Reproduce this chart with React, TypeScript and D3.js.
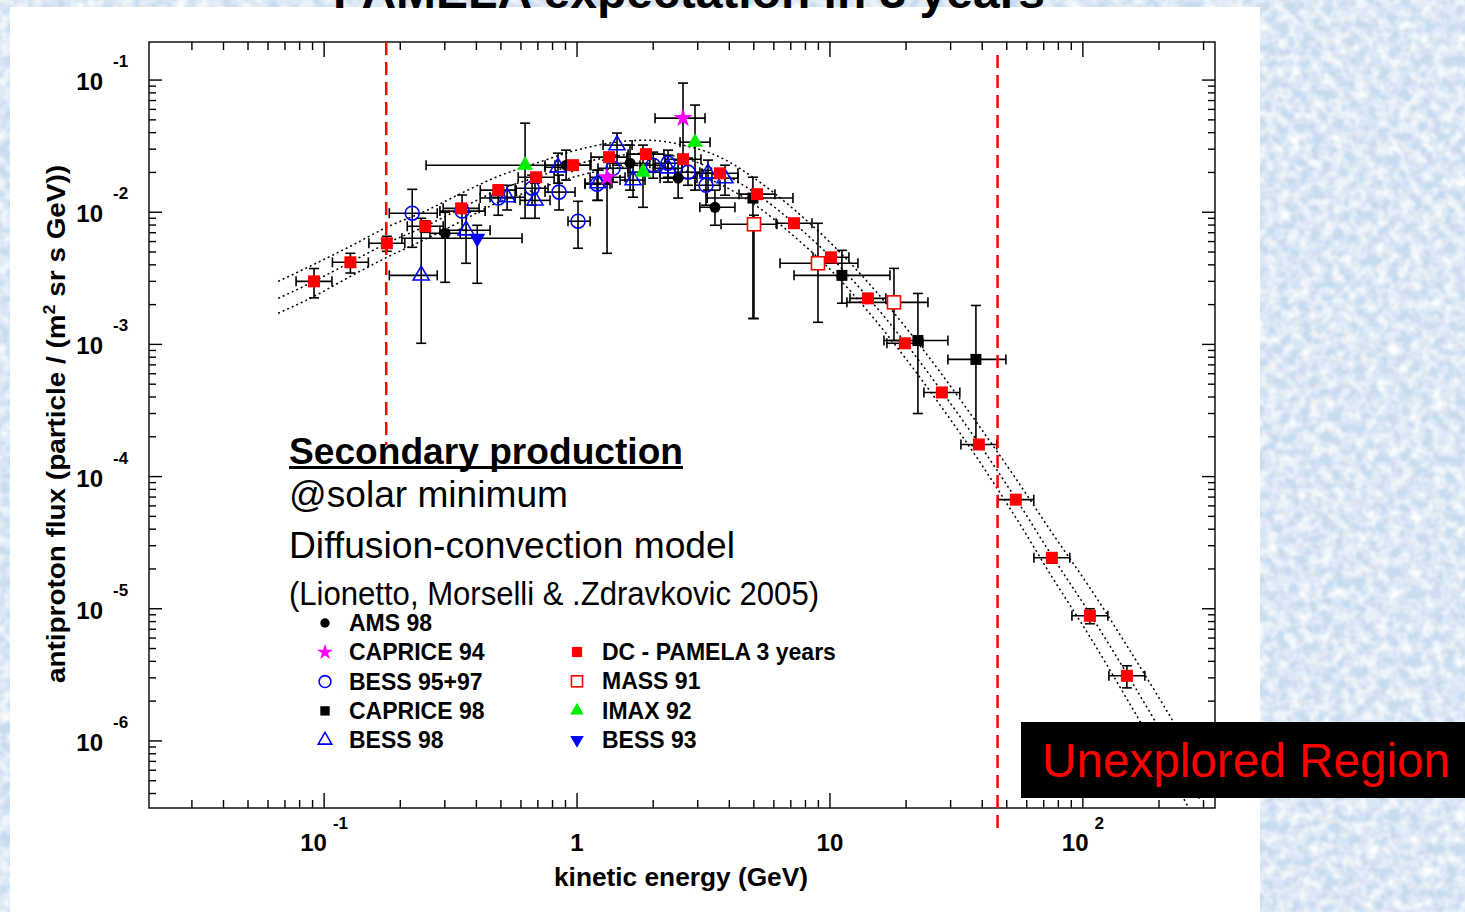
import * as d3 from 'd3';

// [E (GeV), flux, Emin, Emax, fluxMin, fluxMax]
type Pt = [number, number, number, number, number, number];

const ams98: Pt[] = [
  [0.301, 0.00693, 0.262, 0.345, 0.00295, 0.01],
  [0.905, 0.0227, 0.747, 1.126, 0.0175, 0.0295],
  [1.62, 0.0235, 1.35, 1.94, 0.0147, 0.0322],
  [2.51, 0.0181, 2.13, 2.98, 0.0128, 0.0248],
  [3.51, 0.0109, 3.06, 4.21, 0.00797, 0.0147],
];

const caprice98: Pt[] = [
  [4.96, 0.0128, 3.27, 7.14, 0.00157, 0.0184],
  [11.15, 0.00333, 7.21, 17.27, 0.00205, 0.00515],
  [22.27, 0.00107, 16.35, 29.27, 3.0e-4, 0.00243],
  [37.77, 7.7e-4, 29.27, 49.62, 1.72e-4, 0.00197],
];

const bess9597: Pt[] = [
  [0.223, 0.00983, 0.181, 0.28, 0.00543, 0.0149],
  [0.351, 0.0102, 0.287, 0.433, 0.0073, 0.0135],
  [0.488, 0.0128, 0.414, 0.569, 0.00949, 0.016],
  [0.664, 0.0152, 0.569, 0.768, 0.0113, 0.0191],
  [0.849, 0.0142, 0.747, 0.982, 0.0104, 0.0191],
  [1.009, 0.00855, 0.921, 1.126, 0.00534, 0.0121],
  [1.2, 0.0163, 1.075, 1.35, 0.0123, 0.0208],
  [1.388, 0.0215, 1.21, 1.591, 0.0169, 0.027],
  [2.0, 0.0227, 1.774, 2.228, 0.0181, 0.0285],
  [2.289, 0.0235, 2.034, 2.6, 0.0184, 0.0295],
  [2.746, 0.0201, 2.44, 3.06, 0.016, 0.0257],
  [3.235, 0.016, 2.927, 3.675, 0.0113, 0.0208],
];

const bess98: Pt[] = [
  [0.242, 0.00333, 0.181, 0.28, 0.00102, 0.009],
  [0.364, 0.0073, 0.287, 0.453, 0.00411, 0.01],
  [0.529, 0.013, 0.453, 0.623, 0.0104, 0.016],
  [0.682, 0.0123, 0.595, 0.782, 0.009, 0.0166],
  [0.841, 0.0219, 0.747, 0.955, 0.0166, 0.028],
  [1.21, 0.0166, 1.075, 1.375, 0.0123, 0.0208],
  [1.439, 0.0322, 1.267, 1.65, 0.0227, 0.0397],
  [1.665, 0.0175, 1.479, 1.857, 0.013, 0.0227],
  [2.289, 0.0215, 2.034, 2.6, 0.0169, 0.027],
  [3.295, 0.0197, 2.927, 3.675, 0.0147, 0.0248],
  [3.846, 0.0181, 3.417, 4.33, 0.01345, 0.0227],
];

const imax92: Pt[] = [
  [0.623, 0.0227, 0.253, 0.982, 0.009, 0.0472],
  [1.823, 0.0201, 1.591, 2.128, 0.0109, 0.0322],
  [2.927, 0.0339, 2.554, 3.356, 0.0147, 0.0647],
];

const caprice94: Pt[] = [
  [1.314, 0.0184, 1.126, 1.548, 0.00489, 0.0248],
  [2.624, 0.0515, 2.034, 3.206, 0.0248, 0.0949],
];

const bess93: Pt[] = [[0.403, 0.00635, 0.203, 0.606, 0.0029, 0.00797]];

const mass91: Pt[] = [
  [5.007, 0.00811, 3.709, 6.172, 0.00157, 0.00949],
  [8.966, 0.00411, 6.345, 12.9, 0.00147, 0.00825],
  [17.91, 0.00208, 11.67, 24.4, 0.00107, 0.00376],
];

// PAMELA 3-year expectation: [E, flux, relative flux error]
const pamela: [number, number, number][] = [
  [0.0912, 3.0e-3, 0.25], [0.127, 4.18e-3, 0.17], [0.177, 5.82e-3, 0.13],
  [0.251, 7.83e-3, 0.1], [0.348, 1.07e-2, 0.08], [0.488, 1.47e-2, 0.05],
  [0.689, 1.84e-2, 0.05], [0.964, 2.27e-2, 0.05], [1.337, 2.61e-2, 0.05],
  [1.874, 2.75e-2, 0.05], [2.624, 2.52e-2, 0.05], [3.675, 1.97e-2, 0.05],
  [5.146, 1.37e-2, 0.05], [7.21, 8.26e-3, 0.05], [10.09, 4.56e-3, 0.05],
  [14.13, 2.23e-3, 0.05], [19.78, 1.02e-3, 0.05], [27.7, 4.33e-4, 0.05],
  [38.8, 1.75e-4, 0.05], [54.3, 6.69e-5, 0.06], [75.4, 2.43e-5, 0.09],
  [106.6, 8.85e-6, 0.13], [149.3, 3.11e-6, 0.19], [209, 1.0e-6, 0.25],
];
const pamelaBinDex = 0.071; // half bin width in decades

// Secondary production model band (upper / central / lower)
const modelE = [0.0658, 0.0912, 0.127, 0.177, 0.251, 0.348, 0.488, 0.689, 0.964, 1.337, 1.874, 2.624, 3.675,
  5.146, 7.21, 10.09, 14.13, 19.78, 27.7, 38.8, 54.3, 75.4, 106.6, 149.3, 209, 290];
const modelUpper = [3.0e-3, 4.04e-3, 5.53e-3, 7.7e-3, 1.02e-2, 1.39e-2, 1.87e-2, 2.35e-2, 2.9e-2, 3.33e-2, 3.51e-2,
  3.22e-2, 2.61e-2, 1.75e-2, 1.05e-2, 5.82e-3, 2.95e-3, 1.37e-3, 5.93e-4, 2.43e-4, 9.66e-5, 3.77e-5, 1.44e-5,
  5.25e-6, 1.84e-6, 6.35e-7];
const modelMid = [2.23e-3, 3.0e-3, 4.18e-3, 5.82e-3, 7.83e-3, 1.07e-2, 1.47e-2, 1.84e-2, 2.27e-2, 2.61e-2, 2.8e-2,
  2.57e-2, 2.01e-2, 1.37e-2, 8.25e-3, 4.56e-3, 2.27e-3, 1.04e-3, 4.4e-4, 1.78e-4, 6.81e-5, 2.52e-5, 9.17e-6,
  3.22e-6, 1.09e-6, 3.64e-7];
const modelLower = [1.72e-3, 2.31e-3, 3.27e-3, 4.56e-3, 6.24e-3, 8.55e-3, 1.19e-2, 1.49e-2, 1.84e-2, 2.12e-2, 2.27e-2,
  2.08e-2, 1.63e-2, 1.11e-2, 6.58e-3, 3.64e-3, 1.78e-3, 7.97e-4, 3.33e-4, 1.32e-4, 4.89e-5, 1.75e-5, 6.14e-6,
  2.08e-6, 6.81e-7, 2.19e-7];

// energy window boundaries (red dashed lines)
const windowLow = 0.176;
const windowHigh = 46;

const xDecades = [0.1, 1, 10, 100];
const yDecades = [-1, -2, -3, -4, -5, -6];

type Kind = 'dot' | 'star' | 'ocircle' | 'bsquare' | 'otri' | 'rsquare' | 'osquare' | 'gtri' | 'dtri';

const legendCol1: [string, Kind][] = [
  ['AMS 98', 'dot'], ['CAPRICE 94', 'star'], ['BESS 95+97', 'ocircle'], ['CAPRICE 98', 'bsquare'], ['BESS 98', 'otri'],
];
const legendCol2: [string, Kind][] = [
  ['DC - PAMELA 3 years', 'rsquare'], ['MASS 91', 'osquare'], ['IMAX 92', 'gtri'], ['BESS 93', 'dtri'],
];

const FONT = '"Liberation Sans", Arial, Helvetica, sans-serif';

function Marker({ kind, cx, cy, s = 1 }: { kind: Kind; cx: number; cy: number; s?: number }) {
  const tri = d3.symbol(d3.symbolTriangle, 110 * s * s)()!;
  switch (kind) {
    case 'dot':
      return <circle cx={cx} cy={cy} r={5.5 * s} fill="#000" />;
    case 'ocircle':
      return <circle cx={cx} cy={cy} r={7 * s} fill="none" stroke="#0000ff" strokeWidth={1.6} />;
    case 'bsquare':
      return <rect x={cx - 5.5 * s} y={cy - 5.5 * s} width={11 * s} height={11 * s} fill="#000" />;
    case 'rsquare':
      return <rect x={cx - 6 * s} y={cy - 6 * s} width={12 * s} height={12 * s} fill="#ff0000" />;
    case 'osquare':
      return <rect x={cx - 6.5 * s} y={cy - 6.5 * s} width={13 * s} height={13 * s} fill="#fff" stroke="#ff0000" strokeWidth={1.6} />;
    case 'star':
      return <path d={d3.symbol(d3.symbolStar, 110 * s * s)()!} transform={`translate(${cx},${cy})`} fill="#ff00ff" />;
    case 'otri':
      return <path d={tri} transform={`translate(${cx},${cy})`} fill="none" stroke="#0000ff" strokeWidth={1.6} />;
    case 'gtri':
      return <path d={tri} transform={`translate(${cx},${cy})`} fill="#00ee00" />;
    case 'dtri':
      return <path d={tri} transform={`translate(${cx},${cy}) rotate(180)`} fill="#0000ff" />;
  }
}

export default function App() {
  const W = 1465;
  const H = 912;
  const m = { left: 149, right: 1215, top: 42, bottom: 808 };

  const x = d3.scaleLog().domain([0.0203, 333]).range([m.left, m.right]);
  const y = d3.scaleLog().domain([0.1941, 3.108e-7]).range([m.top, m.bottom]);

  const isMajor = (v: number) => Math.abs(Math.log10(v) - Math.round(Math.log10(v))) < 1e-6;
  const xTicks = x.ticks();
  const yTicks = y.ticks();

  const line = d3.line<number>()
    .x((_, i) => x(modelE[i]))
    .y(d => y(d))
    .curve(d3.curveMonotoneX);

  const series: { kind: Kind; data: Pt[] }[] = [
    { kind: 'ocircle', data: bess9597 },
    { kind: 'otri', data: bess98 },
    { kind: 'dot', data: ams98 },
    { kind: 'bsquare', data: caprice98 },
    { kind: 'osquare', data: mass91 },
    { kind: 'gtri', data: imax92 },
    { kind: 'star', data: caprice94 },
    { kind: 'dtri', data: bess93 },
  ];

  const pamelaPts: Pt[] = pamela.map(([e, f, r]) => [
    e, f, e / Math.pow(10, pamelaBinDex), e * Math.pow(10, pamelaBinDex), f * (1 - r), f * (1 + r),
  ]);

  const cap = 5;
  const errorBars = (p: Pt, key: string) => {
    const [e, f, e0, e1, f0, f1] = p;
    const cx = x(e);
    const cy = y(f);
    return (
      <g key={key}>
        <line x1={x(e0)} x2={x(e1)} y1={cy} y2={cy} />
        <line x1={x(e0)} x2={x(e0)} y1={cy - cap} y2={cy + cap} />
        <line x1={x(e1)} x2={x(e1)} y1={cy - cap} y2={cy + cap} />
        <line x1={cx} x2={cx} y1={y(f0)} y2={y(f1)} />
        <line x1={cx - cap} x2={cx + cap} y1={y(f0)} y2={y(f0)} />
        <line x1={cx - cap} x2={cx + cap} y1={y(f1)} y2={y(f1)} />
      </g>
    );
  };

  return (
    <div style={{ position: 'absolute', left: 0, top: 0 }}>
      <svg width={W} height={H} style={{ display: 'block' }}>
        <defs>
          <filter id="tex" x="0" y="0" width="100%" height="100%">
            <feTurbulence type="fractalNoise" baseFrequency="0.09" numOctaves="2" seed="7" result="n" />
            <feColorMatrix in="n" type="matrix"
              values="0 0 0 0 1  0 0 0 0 1  0 0 0 0 1  1.8 0 0 0 -0.55" />
          </filter>
          <clipPath id="plot">
            <rect x={m.left} y={m.top} width={m.right - m.left} height={m.bottom - m.top} />
          </clipPath>
        </defs>

        {/* slide background */}
        <rect width={W} height={H} fill="#c9dcef" />
        <rect width={W} height={H} filter="url(#tex)" />
        <rect x={10} y={7} width={1250} height={H - 7} fill="#fff" />

        <text x={689} y={8} textAnchor="middle" fontFamily={FONT} fontWeight="bold" fontSize={46}
          textLength={712} lengthAdjust="spacingAndGlyphs">PAMELA expectation in 3 years</text>

        {/* model band */}
        <g clipPath="url(#plot)" fill="none" stroke="#000" strokeWidth={1.5} strokeDasharray="2 3">
          <path d={line(modelUpper)!} />
          <path d={line(modelMid)!} />
          <path d={line(modelLower)!} />
        </g>

        {/* error bars */}
        <g stroke="#000" strokeWidth={1.6}>
          {series.map((s, i) => s.data.map((p, j) => errorBars(p, `${i}-${j}`)))}
          {pamelaPts.map((p, j) => errorBars(p, `p-${j}`))}
        </g>

        {/* markers */}
        <g>
          {series.map((s, i) => s.data.map((p, j) => (
            <Marker key={`${i}-${j}`} kind={s.kind} cx={x(p[0])} cy={y(p[1])} />
          )))}
          {pamelaPts.map((p, j) => <Marker key={`pm-${j}`} kind="rsquare" cx={x(p[0])} cy={y(p[1])} />)}
        </g>

        {/* frame and ticks */}
        <g stroke="#000" strokeWidth={1.4}>
          <rect x={m.left} y={m.top} width={m.right - m.left} height={m.bottom - m.top} fill="none" />
          {xTicks.map(t => {
            const len = isMajor(t) ? 15 : 8;
            return (
              <g key={`xt${t}`}>
                <line x1={x(t)} x2={x(t)} y1={m.bottom} y2={m.bottom - len} />
                <line x1={x(t)} x2={x(t)} y1={m.top} y2={m.top + len} />
              </g>
            );
          })}
          {yTicks.map(t => {
            const len = isMajor(t) ? 13 : 7;
            return (
              <g key={`yt${t}`}>
                <line x1={m.left} x2={m.left + len} y1={y(t)} y2={y(t)} />
                <line x1={m.right} x2={m.right - len} y1={y(t)} y2={y(t)} />
              </g>
            );
          })}
        </g>

        {/* tick labels */}
        <g fontFamily={FONT} fontWeight="bold" fill="#000">
          {yDecades.map(k => (
            <g key={`yl${k}`}>
              <text x={103} y={y(Math.pow(10, k)) + 10} textAnchor="end" fontSize={24}>10</text>
              <text x={113} y={y(Math.pow(10, k)) - 13} fontSize={17}>{k}</text>
            </g>
          ))}
          {xDecades.map(v => {
            const k = Math.round(Math.log10(v));
            return (
              <text key={`xl${v}`} x={x(v)} y={851} textAnchor="middle" fontSize={24}>
                {k === 0 ? '1' : '10'}
                {k !== 0 && k !== 1 && <tspan dx={6} dy={-22} fontSize={17}>{k}</tspan>}
              </text>
            );
          })}
        </g>

        {/* axis titles */}
        <text x={681} y={886} textAnchor="middle" fontFamily={FONT} fontWeight="bold" fontSize={25}
          textLength={254} lengthAdjust="spacingAndGlyphs">kinetic energy (GeV)</text>
        <text transform="translate(65,424) rotate(-90)" textAnchor="middle" fontFamily={FONT} fontWeight="bold"
          fontSize={25} textLength={518} lengthAdjust="spacingAndGlyphs">
          antiproton flux (particle / (m<tspan dy={-10} fontSize={16}>2</tspan><tspan dy={10}> sr s GeV))</tspan>
        </text>

        {/* energy window */}
        <g stroke="#ff0000" strokeWidth={2.5} strokeDasharray="13 7">
          <line x1={x(windowLow)} x2={x(windowLow)} y1={m.top} y2={445} />
          <line x1={x(windowHigh)} x2={x(windowHigh)} y1={55} y2={828} />
        </g>

        {/* annotation text */}
        <g fontFamily={FONT} fill="#000">
          <text x={289} y={464} fontSize={36} fontWeight="bold" textLength={394} lengthAdjust="spacingAndGlyphs">
            Secondary production
          </text>
          <rect x={289} y={466} width={394} height={3} fill="#000" />
          <text x={289} y={507} fontSize={36} textLength={279} lengthAdjust="spacingAndGlyphs">@solar minimum</text>
          <text x={289} y={558} fontSize={36} textLength={446} lengthAdjust="spacingAndGlyphs">Diffusion-convection model</text>
          <text x={289} y={605} fontSize={34} textLength={530} lengthAdjust="spacingAndGlyphs">
            (Lionetto,  Morselli &amp; .Zdravkovic 2005)
          </text>
        </g>

        {/* legend */}
        <g fontFamily={FONT} fontWeight="bold" fontSize={23} fill="#000">
          {legendCol1.map(([label, kind], i) => (
            <g key={label}>
              <Marker kind={kind} cx={325} cy={623 + i * 29.3} s={0.85} />
              <text x={349} y={623 + i * 29.3 + 8}>{label}</text>
            </g>
          ))}
          {legendCol2.map(([label, kind], i) => (
            <g key={label}>
              <Marker kind={kind} cx={577} cy={652 + i * 29.3} s={0.85} />
              <text x={602} y={652 + i * 29.3 + 8}>{label}</text>
            </g>
          ))}
        </g>

        {/* unexplored region label */}
        <rect x={1021} y={722} width={444} height={76} fill="#000" />
        <text x={1042} y={777} fontFamily={FONT} fontSize={48} fill="#ff0000" textLength={408}
          lengthAdjust="spacingAndGlyphs">Unexplored Region</text>
      </svg>
    </div>
  );
}
